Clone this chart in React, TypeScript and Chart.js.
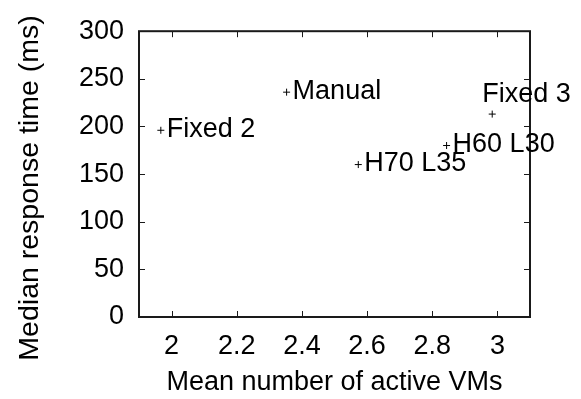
import React, { useEffect, useRef } from "react";
import { Chart, registerables } from "chart.js";

Chart.register(...registerables);

const pointLabels = ["Fixed 2", "Manual", "H70 L35", "H60 L30", "Fixed 3"];
const meanActiveVMs = [1.967, 2.353, 2.573, 2.844, 2.984];
const medianResponseMs = [196, 236, 160, 180, 213];
const labelPlacement = ["right", "right", "right", "right", "above"];

const xTickValues = [2, 2.2, 2.4, 2.6, 2.8, 3];
const xMin = 1.9;
const xMax = 3.1;
const yMin = 0;
const yMax = 300;
const yStep = 50;

const xTitle = "Mean number of active VMs";
const yTitle = "Median response time (ms)";

const FONT_FAMILY = '"Liberation Sans", Arial, Helvetica, sans-serif';
const FONT_SIZE = 27;
const Y_TITLE_SIZE = 28.5;
const INK = "#000000";
const FRAME = "#1a1a1a";

const framePlugin = {
  id: "gnuFrame",
  afterDraw(chart: any) {
    const { ctx, chartArea } = chart;
    const { left, right, top, bottom } = chartArea;
    const xs = chart.scales.x;
    const ys = chart.scales.y;
    ctx.save();
    // inward ticks
    ctx.strokeStyle = FRAME;
    ctx.lineWidth = 1;
    const tl = 6;
    ctx.beginPath();
    xs.ticks.forEach((t: any) => {
      const px = Math.round(xs.getPixelForValue(t.value)) + 0.5;
      ctx.moveTo(px, bottom);
      ctx.lineTo(px, bottom - tl);
      ctx.moveTo(px, top);
      ctx.lineTo(px, top + tl);
    });
    ys.ticks.forEach((t: any) => {
      const py = Math.round(ys.getPixelForValue(t.value)) + 0.5;
      ctx.moveTo(left, py);
      ctx.lineTo(left + tl, py);
      ctx.moveTo(right, py);
      ctx.lineTo(right - tl, py);
    });
    ctx.stroke();
    // frame
    ctx.lineWidth = 2;
    ctx.strokeRect(left, top, right - left, bottom - top);

    // point labels
    ctx.fillStyle = INK;
    ctx.font = `${FONT_SIZE}px ${FONT_FAMILY}`;
    const meta = chart.getDatasetMeta(0);
    meta.data.forEach((el: any, i: number) => {
      const place = labelPlacement[i];
      ctx.textAlign = "left";
      ctx.textBaseline = "middle";
      if (place === "above") {
        ctx.fillText(pointLabels[i], el.x - 10, el.y - 20);
      } else {
        ctx.fillText(pointLabels[i], el.x + 6, el.y - 1);
      }
    });

    // y axis title
    ctx.font = `${Y_TITLE_SIZE}px ${FONT_FAMILY}`;
    ctx.translate(30, 188);
    ctx.rotate(-Math.PI / 2);
    ctx.textAlign = "center";
    ctx.textBaseline = "middle";
    ctx.fillText(yTitle, 0, 0);
    ctx.restore();
  },
};

export default function App() {
  const canvasRef = useRef<HTMLCanvasElement | null>(null);

  useEffect(() => {
    if (!canvasRef.current) return;
    const data = meanActiveVMs.map((x, i) => ({ x, y: medianResponseMs[i] }));
    const chart = new Chart(canvasRef.current, {
      type: "scatter",
      data: {
        datasets: [
          {
            label: "runs",
            data,
            pointStyle: "cross",
            pointRadius: 3.5,
            pointHoverRadius: 3.5,
            borderColor: INK,
            backgroundColor: INK,
            borderWidth: 1,
          },
        ],
      },
      options: {
        animation: false,
        responsive: false,
        events: [],
        layout: { padding: { left: 0, top: 27, right: 51, bottom: 0 } },
        plugins: {
          legend: { display: false },
          tooltip: { enabled: false },
          title: { display: false },
        },
        scales: {
          x: {
            type: "linear",
            min: xMin,
            max: xMax,
            grid: { display: false, drawTicks: false },
            border: { display: false },
            afterBuildTicks: (scale: any) => {
              scale.ticks = xTickValues.map((v) => ({ value: v }));
            },
            afterFit: (scale: any) => {
              scale.height = 82;
            },
            ticks: {
              color: INK,
              padding: 13,
              maxRotation: 0,
              autoSkip: false,
              font: { family: FONT_FAMILY, size: FONT_SIZE },
              callback: (v: any) => String(v),
            },
            title: {
              display: true,
              text: xTitle,
              color: INK,
              font: { family: FONT_FAMILY, size: FONT_SIZE },
              padding: { top: 0, bottom: 0 },
            },
          },
          y: {
            type: "linear",
            min: yMin,
            max: yMax,
            grid: { display: false, drawTicks: false },
            border: { display: false },
            afterFit: (scale: any) => {
              scale.width = 139;
            },
            ticks: {
              color: INK,
              padding: 15,
              stepSize: yStep,
              font: { family: FONT_FAMILY, size: FONT_SIZE },
            },
            title: { display: false, text: yTitle },
          },
        },
      },
      plugins: [framePlugin],
    });
    return () => chart.destroy();
  }, []);

  return (
    <div style={{ position: "fixed", left: 0, top: 0, width: 581, height: 399, background: "#fff" }}>
      <canvas ref={canvasRef} width={581} height={399} />
    </div>
  );
}
